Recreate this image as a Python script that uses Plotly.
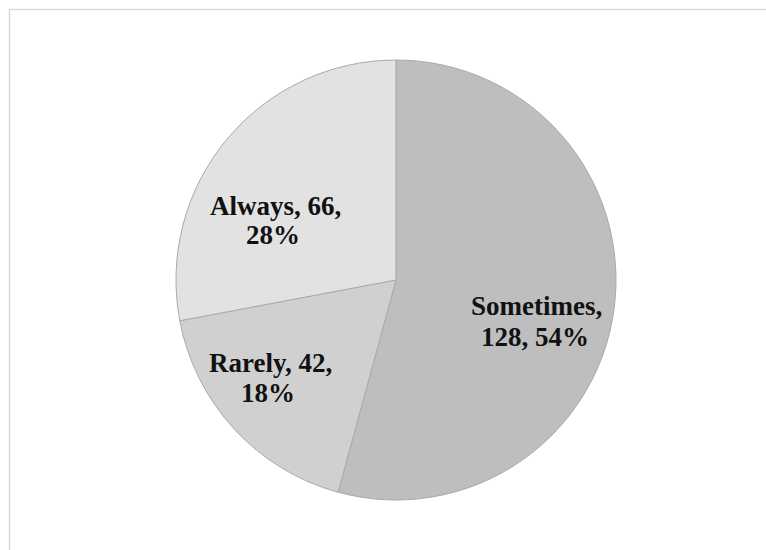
import plotly.graph_objects as go

# Survey responses
categories = ["Sometimes", "Rarely", "Always"]
counts = [128, 42, 66]
slice_colors = ["#bebebe", "#d0d0d0", "#e2e2e2"]

W, H = 766, 550
total = sum(counts)
pct = [round(100 * c / total) for c in counts]

# Pie centre and radius in pixels
cx, cy, r = 396, 280, 220

fig = go.Figure(
    go.Pie(
        labels=categories,
        values=counts,
        sort=False,
        direction="clockwise",
        rotation=0,
        marker=dict(colors=slice_colors, line=dict(color="#aaaaaa", width=1)),
        textinfo="none",
        hoverinfo="label+value+percent",
        showlegend=False,
        domain=dict(x=[(cx - r) / W, (cx + r) / W], y=[1 - (cy + r) / H, 1 - (cy - r) / H]),
    )
)

# Two-line data labels, positioned in pixels
lines = {
    "Sometimes": [f"{categories[0]},", f"{counts[0]}, {pct[0]}%"],
    "Rarely": [f"{categories[1]}, {counts[1]},", f"{pct[1]}%"],
    "Always": [f"{categories[2]}, {counts[2]},", f"{pct[2]}%"],
}
label_pos = {
    "Sometimes": [(536, 306), (535, 337)],
    "Rarely": [(270, 363), (268, 393)],
    "Always": [(275, 206), (273, 235)],
}
annotations = []
for name in categories:
    for text, (px, py) in zip(lines[name], label_pos[name]):
        annotations.append(
            dict(
                x=px / W, y=1 - py / H, xref="paper", yref="paper",
                text=f"<b>{text}</b>", showarrow=False,
                xanchor="center", yanchor="middle",
                font=dict(family="Liberation Serif", size=27, color="#111111"),
            )
        )

fig.update_layout(
    width=W, height=H,
    margin=dict(l=0, r=0, t=0, b=0),
    paper_bgcolor="white", plot_bgcolor="white",
    annotations=annotations,
    shapes=[
        dict(
            type="rect", xref="paper", yref="paper",
            x0=9.5 / W, x1=(W + 10) / W, y0=-10 / H, y1=1 - 9.5 / H,
            line=dict(color="#d9d9d9", width=1.5), fillcolor="rgba(0,0,0,0)",
        )
    ],
)

fig.write_html("out.html")
